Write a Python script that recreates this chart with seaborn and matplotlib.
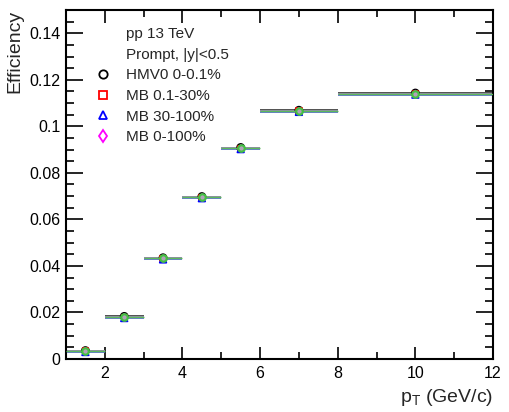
import numpy as np
import matplotlib
matplotlib.use("Agg")
import matplotlib.pyplot as plt
import seaborn as sns
from matplotlib.lines import Line2D
from matplotlib.ticker import MultipleLocator, FixedLocator

# pT bins
bin_lo = [1, 2, 3, 4, 5, 6, 8]
bin_hi = [2, 3, 4, 5, 6, 8, 12]

# efficiencies per multiplicity class
eff_hmv0 = [0.0036, 0.0183, 0.0435, 0.0698, 0.0909, 0.1069, 0.1143]
eff_mb_0p1_30 = [0.0034, 0.0180, 0.0432, 0.0695, 0.0906, 0.1066, 0.1140]
eff_mb_30_100 = [0.0030, 0.0176, 0.0428, 0.0691, 0.0902, 0.1062, 0.1136]
eff_mb_0_100 = [0.0034, 0.0180, 0.0432, 0.0695, 0.0906, 0.1066, 0.1140]
eff_green = [0.0034, 0.0180, 0.0432, 0.0695, 0.0906, 0.1066, 0.1140]

sns.set_style("ticks")
plt.rcParams['font.family'] = ['Liberation Sans', 'DejaVu Sans']
plt.rcParams['mathtext.fontset'] = 'custom'
plt.rcParams['mathtext.rm'] = 'Liberation Sans'
plt.rcParams['mathtext.it'] = 'Liberation Sans'

lo = np.array(bin_lo, dtype=float)
hi = np.array(bin_hi, dtype=float)
ctr = (lo + hi) / 2
half = (hi - lo) / 2

fig = plt.figure(figsize=(5.1, 4.12), dpi=100)
ax = fig.add_axes([66 / 510, 1 - 359 / 412, 427 / 510, 349 / 412])

series = [
    (eff_hmv0, 'black', 'o', 'HMV0 0-0.1%'),
    (eff_mb_0p1_30, 'red', 's', 'MB 0.1-30%'),
    (eff_mb_30_100, 'blue', '^', 'MB 30-100%'),
    (eff_mb_0_100, 'magenta', 'd', 'MB 0-100%'),
]
line_cols = ['#333333', '#888888', '#4a5fd0', '#9a8fb0']
sizes = [26, 14, 22, 10]
for (vals, col, mk, lab), lc, sz in zip(series, line_cols, sizes):
    ax.errorbar(ctr, vals, xerr=half, fmt='none', ecolor=lc, elinewidth=1.2, capsize=0, zorder=2)
    sns.scatterplot(x=ctr, y=vals, marker=mk, s=sz, facecolor='none', edgecolor=col,
                    linewidth=1.3, ax=ax, zorder=3)
ax.errorbar(ctr, eff_green, xerr=half, fmt='none', ecolor='#5cb85c', elinewidth=1.0, capsize=0, zorder=4)
sns.scatterplot(x=ctr, y=eff_green, marker='o', s=22, facecolor='#b0a0b8', edgecolor='#44c044',
                linewidth=1.6, ax=ax, zorder=5)

ax.set_xlim(1, 12)
ax.set_ylim(0, 0.15)
ax.xaxis.set_major_locator(FixedLocator([2, 4, 6, 8, 10, 12]))
ax.xaxis.set_minor_locator(FixedLocator([1, 3, 5, 7, 9, 11]))
ax.yaxis.set_major_locator(FixedLocator([0, 0.02, 0.04, 0.06, 0.08, 0.1, 0.12, 0.14]))
ax.yaxis.set_minor_locator(MultipleLocator(0.005))
ax.set_yticklabels(['0', '0.02', '0.04', '0.06', '0.08', '0.1', '0.12', '0.14'])
ax.tick_params(which='both', direction='in', top=True, right=True, width=1.2, labelsize=11.5, colors='black')
ax.tick_params(axis='x', which='major', length=9, pad=5)
ax.tick_params(axis='x', which='minor', length=5)
ax.tick_params(axis='y', which='major', length=12, pad=4)
ax.tick_params(axis='y', which='minor', length=6)
for sp in ax.spines.values():
    sp.set_linewidth(1.5)
    sp.set_color('black')

ax.set_xlabel(r'p$_{\mathrm{T}}$ (GeV/c)', loc='right', fontsize=14, labelpad=4)
ax.set_ylabel('Efficiency', loc='top', fontsize=14, labelpad=4)

handles = [Line2D([], [], linestyle='none', marker=None), Line2D([], [], linestyle='none', marker=None)]
labels = ['pp 13 TeV', 'Prompt, |y|<0.5']
for vals, col, mk, lab in series:
    handles.append(Line2D([], [], linestyle='none', marker=mk, markerfacecolor='none',
                          markeredgecolor=col, markersize=6, markeredgewidth=1.3))
    labels.append(lab)
ax.legend(handles, labels, loc='upper left', bbox_to_anchor=(0.037, 0.99), frameon=False,
          fontsize=11, handlelength=1.0, handletextpad=1.0, labelspacing=0.43)

fig.savefig('out.png', dpi=100)
